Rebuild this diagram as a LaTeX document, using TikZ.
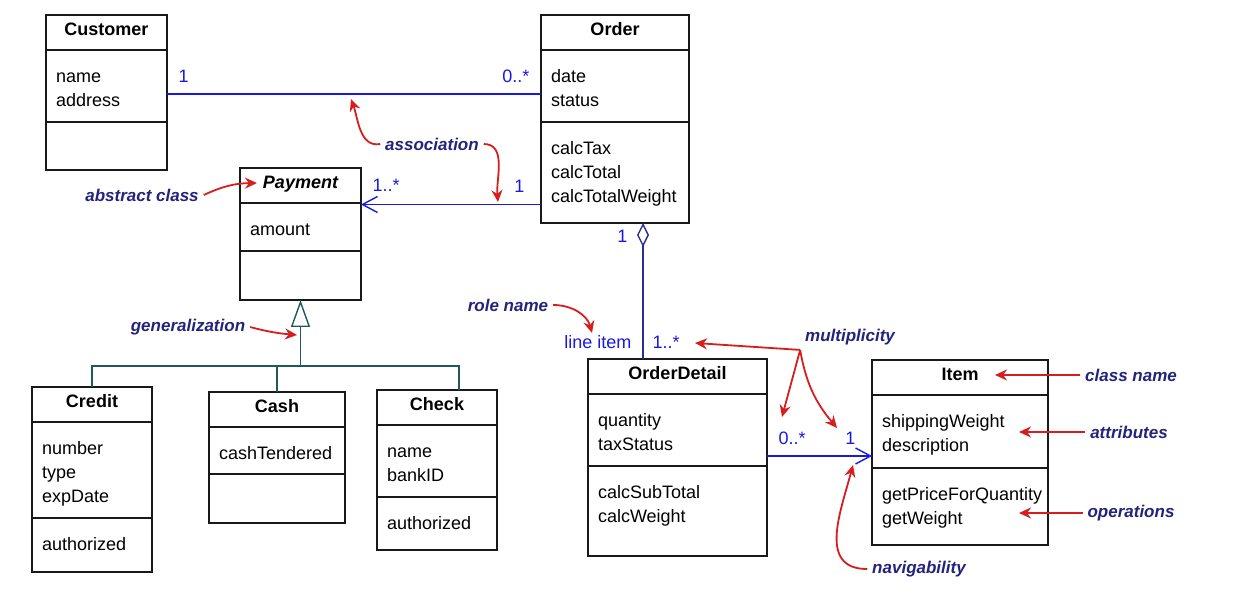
\documentclass[tikz,border=0pt]{standalone}
\usepackage{fontspec}
\setmainfont{Liberation Sans}
\usepackage{tikz}
\usetikzlibrary{arrows.meta,positioning}
\definecolor{boxInk}{RGB}{25,25,25}
\definecolor{assocBlue}{RGB}{25,25,225}
\definecolor{aggrNavy}{RGB}{45,45,145}
\definecolor{genTeal}{RGB}{30,90,90}
\definecolor{noteRed}{RGB}{215,30,30}
\definecolor{noteInk}{RGB}{35,35,125}

\begin{document}
\begin{tikzpicture}[x=0.5pt,y=-0.5pt,
  cls/.style={draw=boxInk,line width=0.8pt,outer sep=0pt,inner xsep=5pt,inner ysep=2pt,
              font=\fontsize{9}{12}\selectfont},
  ttl/.style={cls,text width=#1,align=center,text height=8.5pt,text depth=5pt,
              font=\fontsize{9}{12}\selectfont\bfseries},
  cmp/.style 2 args={cls,text width=#1,align=left,text height=14.25pt,text depth=#2},
  mult/.style={font=\fontsize{9}{11}\selectfont,text=assocBlue,inner sep=0pt},
  note/.style={font=\fontsize{8.5}{10}\selectfont\bfseries\itshape,text=noteInk,
               inner sep=0pt,outer sep=2.5pt},
  assoc/.style={draw=assocBlue,line width=0.7pt},
  navi/.style={assoc,-{Straight Barb[length=7.5pt,width=8pt]}},
  gen/.style={draw=genTeal,line width=0.7pt},
  ptr/.style={draw=noteRed,line width=0.9pt,-{Stealth[length=6pt,width=5.5pt]}}]
  \useasboundingbox (0,0) rectangle (1253,598);

  \node[ttl=50.5pt,anchor=north west] (cust) at (46,15) {Customer};
  \node[cmp={50.5pt}{17.75pt},below=0pt of cust] (custA) {name\\address};
  \node[cmp={50.5pt}{5.75pt},below=0pt of custA] (custO) {};

  \node[ttl=64pt,anchor=north west] (ord) at (541,15) {Order};
  \node[cmp={64pt}{17.75pt},below=0pt of ord] (ordA) {date\\status};
  \node[cmp={64pt}{32.25pt},below=0pt of ordA] (ordO) {calcTax\\calcTotal\\calcTotalWeight};

  \node[ttl=50.5pt,font=\fontsize{9}{12}\selectfont\bfseries\itshape,anchor=north west] (pay) at (240,168) {Payment};
  \node[cmp={50.5pt}{5.75pt},below=0pt of pay] (payA) {amount};
  \node[cmp={50.5pt}{6.25pt},below=0pt of payA] (payO) {};

  \node[ttl=50pt,anchor=north west] (credit) at (32,387) {Credit};
  \node[cmp={50pt}{29.75pt},below=0pt of credit] (creditA) {number\\type\\expDate};
  \node[cmp={50pt}{8.75pt},below=0pt of creditA] (creditO) {authorized};

  \node[ttl=58pt,anchor=north west] (cash) at (209,392) {Cash};
  \node[cmp={58pt}{5.25pt},below=0pt of cash] (cashA) {cashTendered};
  \node[cmp={58pt}{6.25pt},below=0pt of cashA] (cashO) {};

  \node[ttl=50pt,anchor=north west] (check) at (377,390) {Check};
  \node[cmp={50pt}{17.75pt},below=0pt of check] (checkA) {name\\bankID};
  \node[cmp={50pt}{8.25pt},below=0pt of checkA] (checkO) {authorized};

  \node[ttl=79.5pt,anchor=north west] (od) at (588,359) {OrderDetail};
  \node[cmp={79.5pt}{17.75pt},below=0pt of od] (odA) {quantity\\taxStatus};
  \node[cmp={79.5pt}{26.75pt},below=0pt of odA] (odO) {calcSubTotal\\calcWeight};

  \node[ttl=78pt,anchor=north west] (it) at (872,360) {Item};
  \node[cmp={78pt}{18.25pt},below=0pt of it] (itA) {shippingWeight\\description};
  \node[cmp={78pt}{20.25pt},below=0pt of itA] (itO) {getPriceForQuantity\\getWeight};

  \draw[assoc] ([yshift=-4pt]custA.east) --
      node[mult,at start,anchor=south west,xshift=5.5pt,yshift=5.5pt]{1}
      node[mult,at end,anchor=south east,xshift=-5.5pt,yshift=5.5pt]{0..*}
      ([yshift=-4pt]custA.east -| ordA.west);
  \draw[navi] ([yshift=-16pt]ordO.west) --
      node[mult,at start,anchor=south east,xshift=-8pt,yshift=5.5pt]{1}
      node[mult,at end,anchor=south west,xshift=5.5pt,yshift=6pt]{1..*}
      ([yshift=-16pt]ordO.west -| pay.east);
  \draw[draw=aggrNavy,line width=0.7pt,{Diamond[open,length=12pt,width=6pt]}-] ([xshift=14pt]ordO.south) --
      node[mult,at start,anchor=south east,xshift=-7.5pt,yshift=-10pt]{1}
      node[mult,at end,anchor=south east,xshift=-5.5pt,yshift=5pt]{line item}
      node[mult,at end,anchor=south west,xshift=4.5pt,yshift=5pt]{1..*}
      ([xshift=14pt]ordO.south |- od.north);
  \draw[navi] ([yshift=-13pt]odA.east) --
      node[mult,at start,anchor=south west,xshift=5.5pt,yshift=5.5pt]{0..*}
      node[mult,at end,anchor=south east,xshift=-8pt,yshift=5.5pt]{1}
      ([yshift=-13pt]odA.east -| itA.west);

  \coordinate (gj) at (300.5,366);
  \draw[gen,-{Triangle[open,length=13.5pt,width=9.5pt]}] (gj) -- (payO.south);
  \draw[gen] (credit.north) |- ([xshift=11pt]check.north |- gj) -- ([xshift=11pt]check.north);
  \draw[gen] (cash.north) -- (cash.north |- gj);

  \node[note] (nAssoc) at (432,144) {association};
  \node[note] (nAbs) at (142,195) {abstract class};
  \node[note] (nGen) at (188,327) {generalization};
  \node[note] (nRole) at (508,305) {role name};
  \node[note] (nMult) at (850,337) {multiplicity};
  \node[note] (nCls) at (1131,375) {class name};
  \node[note] (nAttr) at (1129,432) {attributes};
  \node[note] (nOps) at (1131,513) {operations};
  \node[note] (nNav) at (919,569) {navigability};

  \coordinate (tAssoc1) at (351,99);
  \coordinate (tAssoc2) at (498,202);
  \coordinate (tAbs) at (257,183);
  \coordinate (tGen) at (297,335);
  \coordinate (tRole) at (592,333);
  \coordinate (tMult1) at (695,343);
  \coordinate (tMult2) at (782,417);
  \coordinate (tMult3) at (837,428);
  \coordinate (tCls) at (995,375);
  \coordinate (tAttr) at (1019,432);
  \coordinate (tOps) at (1019,513);
  \coordinate (tNav) at (853,465);

  \draw[ptr] (nAssoc.west) to[out=190,in=-70] (tAssoc1);
  \draw[ptr] (nAssoc.east) to[out=0,in=95] (tAssoc2);
  \draw[ptr] (nAbs.east) to[bend left=12] (tAbs);
  \draw[ptr] (nGen.east) to[out=-15,in=175] (tGen);
  \draw[ptr] (nRole.east) to[out=0,in=105] (tRole);
  \draw[ptr] (nMult.south west) -- (tMult1);
  \draw[ptr] (nMult.south west) to[out=-105,in=75] (tMult2);
  \draw[ptr] (nMult.south west) to[out=-80,in=130] (tMult3);
  \draw[ptr] (nCls.west) -- (tCls);
  \draw[ptr] (nAttr.west) -- (tAttr);
  \draw[ptr] (nOps.west) -- (tOps);
  \draw[ptr] (nNav.west) to[out=180,in=-105,looseness=1.2] (tNav);
\end{tikzpicture}
\end{document}
